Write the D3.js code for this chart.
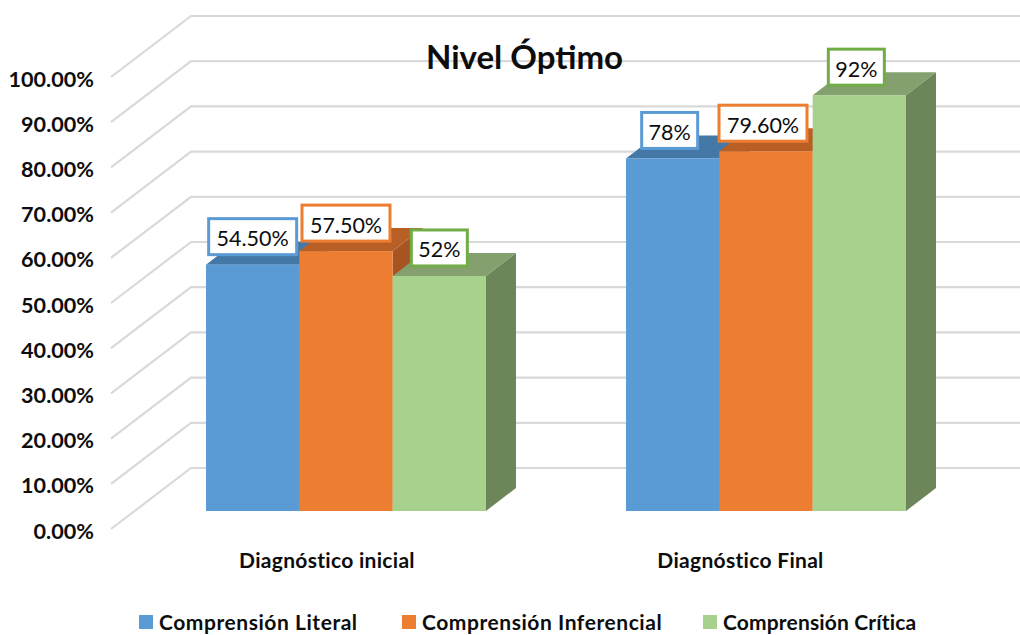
<!DOCTYPE html>
<html><head><meta charset="utf-8">
<script src="https://cdn.jsdelivr.net/npm/d3@7/dist/d3.min.js"></script>
<style>html,body{margin:0;background:#fff}svg{display:block}text{font-family:Lato,Carlito,sans-serif}</style>
</head><body><svg id="c" width="1020" height="635"></svg>
<script>
const categories=["Diagnóstico inicial","Diagnóstico Final"];
const seriesNames=["Comprensión Literal","Comprensión Inferencial","Comprensión Crítica"];
const literal=[54.5,78];
const inferencial=[57.5,79.6];
const critica=[52,92];
const labelsLiteral=["54.50%","78%"];
const labelsInferencial=["57.50%","79.60%"];
const labelsCritica=["52%","92%"];
const ticks=[0,10,20,30,40,50,60,70,80,90,100];
const colors=["#5b9bd5","#ed7d31","#a9d18e"];
const topColors=["#4478a6","#b85f26","#83a06e"];
const sideColors=["#3d6d97","#a65522","#6d8659"];
const borderColors=["#5b9bd5","#ed7d31","#70ad47"];

const svg=d3.select("#c");
const y=d3.scaleLinear().domain([0,100]).range([511,59]);
const x0=d3.scaleBand().domain(categories).range([136,976]);
const dx=30,dy=-23;
const groupW=280;
const x1=d3.scaleBand().domain(seriesNames).range([0,groupW]);
const groupX=c=>x0(c)+(x0.bandwidth()-groupW)/2;
const values=[literal,inferencial,critica];
const labels=[labelsLiteral,labelsInferencial,labelsCritica];

const backDx=80, backDy=-61;
const axisX=111, axisBase=529;
const yAxis=d3.scaleLinear().domain([0,100]).range([axisBase,axisBase-452]);
const grid=svg.append("g").attr("fill","none").attr("stroke","#d9d9d9").attr("stroke-width",2.2);
ticks.forEach(t=>{
  const a=yAxis(t);
  grid.append("path").attr("d",`M${axisX},${a}L${axisX+backDx},${a+backDy}H1020`);
});
svg.append("g").selectAll("text").data(ticks).join("text")
  .attr("x",94).attr("y",t=>yAxis(t)+2).attr("dy","0.35em").attr("text-anchor","end")
  .attr("font-size",21.6).attr("font-weight",700).attr("fill","#0d0d0d")
  .text(t=>d3.format(".2f")(t)+"%");

categories.forEach((c,i)=>{
  const g=svg.append("g");
  seriesNames.forEach((s,k)=>{
    const v=values[k][i];
    const xl=groupX(c)+x1(s), w=x1.bandwidth(), yt=y(v), yb=y(0);
    g.append("path").attr("fill",sideColors[k])
      .attr("d",`M${xl+w},${yt}l${dx},${dy}V${yb+dy}l${-dx},${-dy}Z`);
    g.append("path").attr("fill",topColors[k])
      .attr("d",`M${xl},${yt}l${dx},${dy}h${w}l${-dx},${-dy}Z`);
    g.append("rect").attr("x",xl).attr("y",yt).attr("width",w).attr("height",yb-yt).attr("fill",colors[k]);
  });
});
categories.forEach((c,i)=>{
  seriesNames.forEach((s,k)=>{
    const v=values[k][i];
    const cx=groupX(c)+x1(s)+x1.bandwidth()/2-(i?3:0), cy=y(v)-28;
    const g=svg.append("g");
    const txt=labels[k][i];
    const w=txt.length>3?88:56, h=36;
    g.append("rect").attr("x",cx-w/2).attr("y",cy-h/2).attr("width",w).attr("height",h)
      .attr("fill","#fff").attr("stroke",borderColors[k]).attr("stroke-width",3);
    g.append("text").attr("x",cx).attr("y",cy+2).attr("dy","0.35em").attr("text-anchor","middle")
      .attr("font-size",21.5).attr("fill","#0d0d0d").text(txt);
  });
});
svg.append("text").attr("x",524.5).attr("y",57).attr("dy","0.35em").attr("text-anchor","middle")
  .attr("font-size",33).attr("font-weight",700).attr("fill","#0d0d0d").text("Nivel Óptimo");
svg.append("g").selectAll("text").data(categories).join("text")
  .attr("x",c=>groupX(c)+groupW/2-(c===categories[0]?19:25.5)).attr("y",561).attr("dy","0.35em").attr("text-anchor","middle")
  .attr("font-size",21).attr("letter-spacing",0.3).attr("font-weight",700).attr("fill","#0d0d0d").text(c=>c);
const legendX=[139,402,703];
const legendSpacing=[0.55,0.55,0.15];
const leg=svg.append("g").selectAll("g").data(seriesNames).join("g")
  .attr("transform",(d,i)=>`translate(${legendX[i]},615)`);
leg.append("rect").attr("width",14).attr("height",14).attr("fill",(d,i)=>colors[i]);
leg.append("text").attr("x",20).attr("y",8).attr("dy","0.35em").attr("font-size",21)
  .attr("letter-spacing",(d,i)=>legendSpacing[i]).attr("font-weight",700).attr("fill","#0d0d0d").text(d=>d);
</script></body></html>
